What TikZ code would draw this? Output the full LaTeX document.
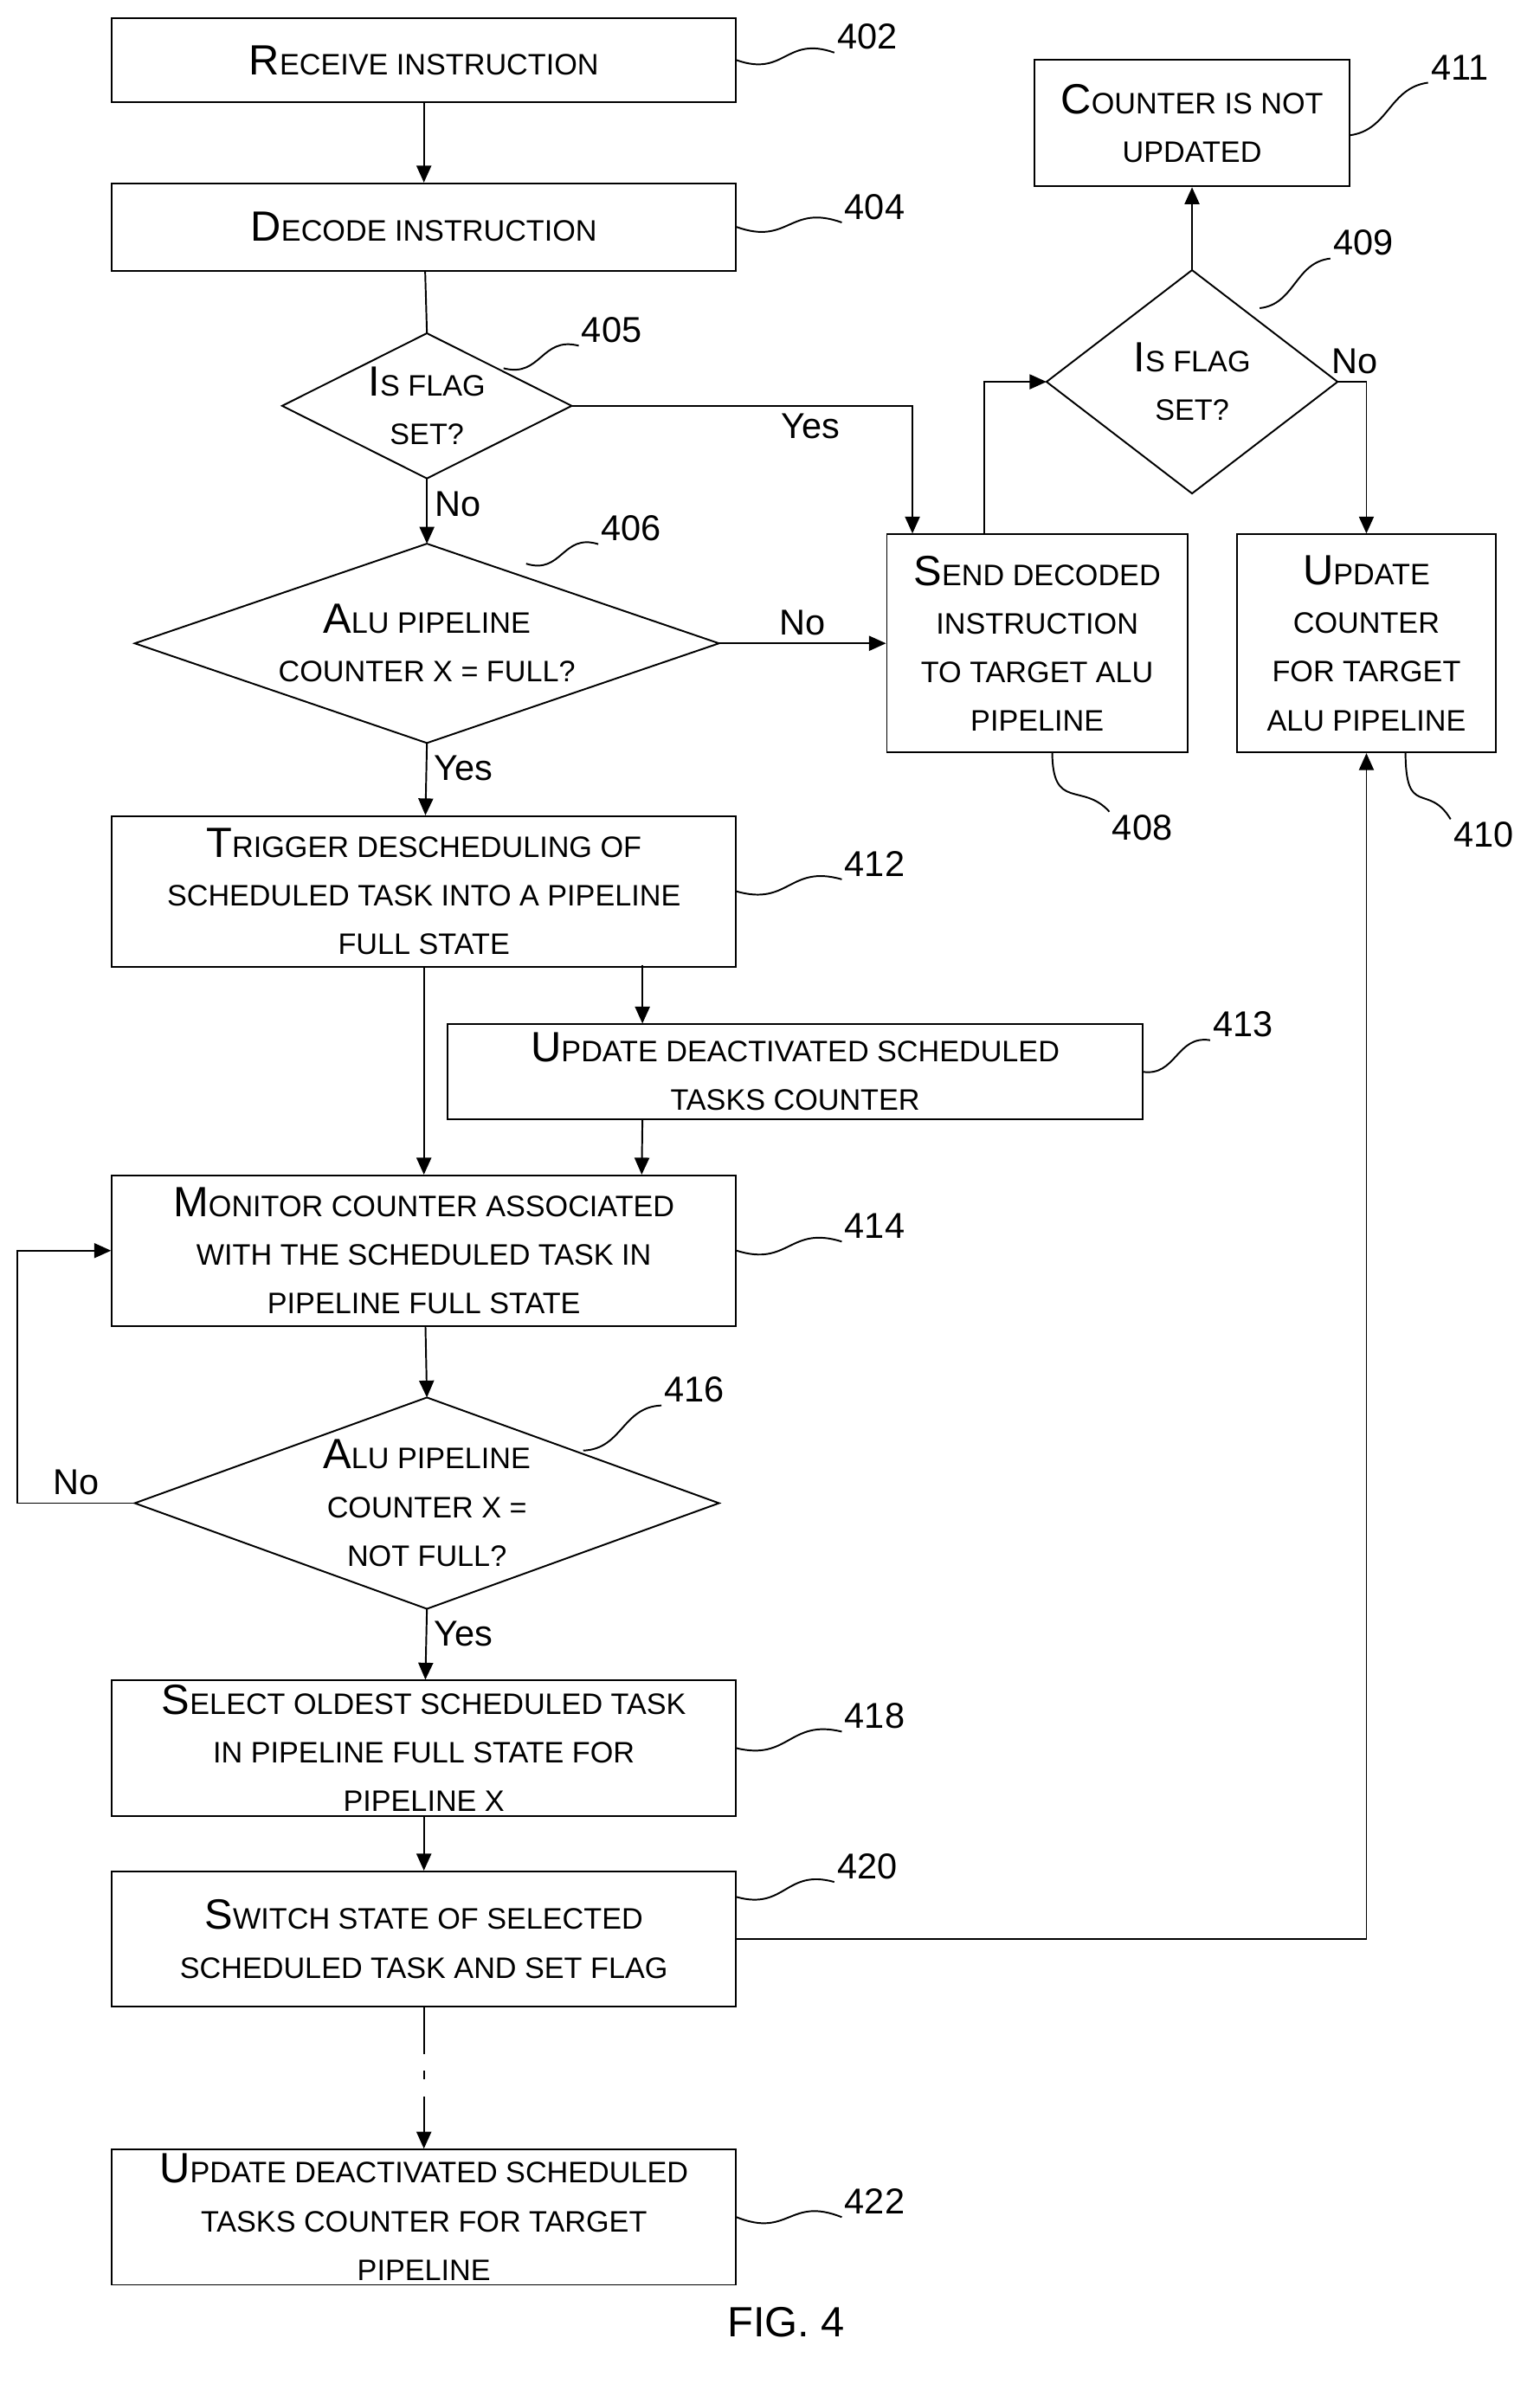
\documentclass[tikz,border=0pt]{standalone}
\usepackage{fontspec}
\setmainfont{Liberation Sans}
\usetikzlibrary{calc,arrows.meta}
\newcommand\Cap[2]{{\fontsize{20}{20}\selectfont #1}\MakeUppercase{#2}}
\newcommand\lead[3]{\draw[thick] (#1) .. controls ($(#1)!0.5!(#2)+(0,14)$) and ($(#1)!0.5!(#2)+(0,-14)$) .. (#2) node[anchor=south west,inner sep=1pt,font=\fontsize{17}{17}\selectfont] {#3};}
\newcommand\diam[1]{\draw[thick] (#1.north) -- (#1.east) -- (#1.south) -- (#1.west) -- cycle;}
\begin{document}
\begin{tikzpicture}[x=0.025cm,y=-0.025cm,
    box/.style={draw,thick,rectangle,minimum width=10.375cm,align=center,inner sep=0pt,font=\fontsize{14}{23}\selectfont},
    dia/.style={rectangle,align=center,inner sep=0pt,font=\fontsize{14}{23}\selectfont},
    arr/.style={thick,-{Triangle[length=8pt,width=7pt]}},
    lbl/.style={font=\fontsize{17}{17}\selectfont}]
\useasboundingbox (0,0) rectangle (1024,1590);

% left column
\node[box,minimum height=1.4cm] (n402) at (282,40) {\Cap{R}{eceive instruction}};
\node[box,minimum height=1.45cm] (n404) at (282,151) {\Cap{D}{ecode instruction}};
\node[dia,minimum width=4.8cm,minimum height=2.4cm] (n405) at (284,270) {\Cap{I}{s flag}\\\MakeUppercase{set?}};
\node[dia,minimum width=9.7cm,minimum height=3.3cm] (n406) at (284,428) {\Cap{A}{lu pipeline}\\\MakeUppercase{counter x = full?}};
\node[box,minimum height=2.5cm] (n412) at (282,593) {\Cap{T}{rigger descheduling of}\\\MakeUppercase{scheduled task into a pipeline}\\\MakeUppercase{full state}};
\node[box,minimum width=11.55cm,minimum height=1.575cm] (n413) at (529,713) {\Cap{U}{pdate deactivated scheduled}\\\MakeUppercase{tasks counter}};
\node[box,minimum height=2.5cm] (n414) at (282,832) {\Cap{M}{onitor counter associated}\\\MakeUppercase{with the scheduled task in}\\\MakeUppercase{pipeline full state}};
\node[dia,minimum width=9.7cm,minimum height=3.5cm] (n416) at (284,1000) {\Cap{A}{lu pipeline}\\\MakeUppercase{counter x =}\\\MakeUppercase{not full?}};
\node[box,minimum height=2.25cm] (n418) at (282,1163) {\Cap{S}{elect oldest scheduled task}\\\MakeUppercase{in pipeline full state for}\\\MakeUppercase{pipeline x}};
\node[box,minimum height=2.25cm] (n420) at (282,1290) {\Cap{S}{witch state of selected}\\\MakeUppercase{scheduled task and set flag}};
\node[box,minimum height=2.25cm] (n422) at (282,1475) {\Cap{U}{pdate deactivated scheduled}\\\MakeUppercase{tasks counter for target}\\\MakeUppercase{pipeline}};

% right part
\node[box,minimum width=5cm,minimum height=3.625cm] (n408) at (690,428) {\Cap{S}{end decoded}\\\MakeUppercase{instruction}\\\MakeUppercase{to target alu}\\\MakeUppercase{pipeline}};
\node[dia,minimum width=4.825cm,minimum height=3.7cm] (n409) at (793,254) {\Cap{I}{s flag}\\\MakeUppercase{set?}};
\node[box,minimum width=5.25cm,minimum height=2.1cm] (n411) at (793,82) {\Cap{C}{ounter is not}\\\MakeUppercase{updated}};
\node[box,minimum width=4.3cm,minimum height=3.625cm] (n410) at (909,428) {\Cap{U}{pdate}\\\MakeUppercase{counter}\\\MakeUppercase{for target}\\\MakeUppercase{alu pipeline}};
\node[lbl,font=\fontsize{20}{20}\selectfont] (fig) at (523,1545) {FIG. 4};

\diam{n405} \diam{n406} \diam{n409} \diam{n416}

% connectors
\draw[arr] (n402) -- (n404);
\draw[thick] (n404) -- (n405.north);
\draw[arr] (n405.south) -- node[right,lbl,pos=0.4] {No} (n406.north);
\draw[arr] (n405.east) -| node[pos=0.35,below,lbl] {Yes} ($(n408.north)+(-83,0)$);
\draw[arr] (n406.east) -- node[above,lbl] {No} (n408.west);
\draw[arr] (n406.south) -- node[right,lbl,pos=0.35] {Yes} (n412);
\draw[arr] ($(n408.north)+(-35,0)$) |- (n409.west);
\draw[arr] (n409.north) -- (n411);
\draw[arr] (n409.east) -| node[pos=0.3,above,lbl] {No} (n410.north);
\draw[arr] (n412) -- (n414);
\draw[arr] ($(n413.north west)+(130,-39)$) -- ($(n413.north west)+(130,0)$);
\draw[arr] ($(n413.south west)+(130,0)$) -- ($(n414.north west)+(353,0)$);
\draw[arr] (n414) -- (n416.north);
\draw[arr] (n416.west) -- node[above,lbl] {No} ++(-78,0) |- (n414.west);
\draw[arr] (n416.south) -- node[right,lbl,pos=0.35] {Yes} (n418);
\draw[arr] (n418) -- (n420);
\draw[arr,dash pattern=on 22pt off 8pt on 4pt off 8pt] (n420) -- (n422);
\draw[arr] (n420.east) -| (n410.south);

% reference numerals
\lead{490,40}{555,35}{402}
\lead{490,151}{560,148}{404}
\lead{335,245}{385,230}{405}
\lead{350,375}{398,362}{406}
\draw[thick] (700,500) .. controls (700,540) and (720,520) .. (738,540) node[anchor=north west,lbl,inner sep=1pt] {408};
\lead{838,205}{885,172}{409}
\lead{898,90}{950,55}{411}
\draw[thick] (935,500) .. controls (935,545) and (950,520) .. (965,545) node[anchor=north west,lbl,inner sep=1pt] {410};
\lead{490,593}{560,585}{412}
\lead{760,713}{805,692}{413}
\lead{490,832}{560,826}{414}
\lead{388,965}{440,935}{416}
\lead{490,1163}{560,1152}{418}
\lead{490,1262}{555,1252}{420}
\lead{490,1475}{560,1475}{422}
\end{tikzpicture}
\end{document}
